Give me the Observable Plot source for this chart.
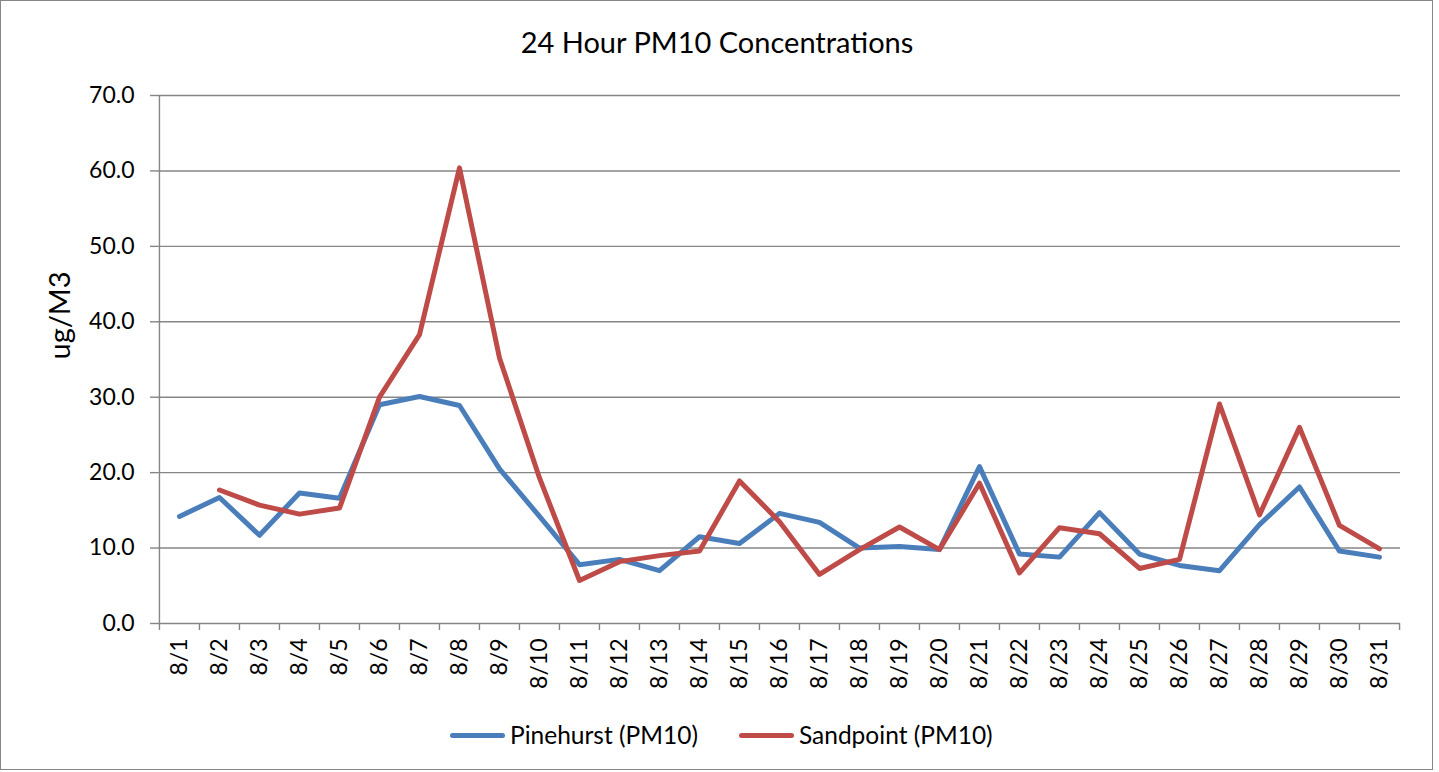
<!DOCTYPE html>
<html>
<head>
<meta charset="utf-8">
<script src="https://cdn.jsdelivr.net/npm/d3@7"></script>
<script src="https://cdn.jsdelivr.net/npm/@observablehq/plot@0.6"></script>
<style>
  html, body { margin: 0; padding: 0; background: #fff; }
  body { width: 1439px; height: 772px; position: relative; overflow: hidden; font-family: Lato, "Liberation Sans", sans-serif; }
  #border { position: absolute; left: 0; top: 0; width: 1433px; height: 770px; border: 1.5px solid #868686; box-sizing: border-box; }
  #chart { position: absolute; left: 0; top: 0; }
  #title { position: absolute; left: 0; width: 1434px; top: 24px; text-align: center; font-size: 29px; color: #000; line-height: 36px; }
  #legend { position: absolute; left: 450px; top: 718px; display: flex; align-items: center; font-size: 24.5px; color: #000; line-height: 34px; }
  .item { display: flex; align-items: center; }
  .sw { width: 55px; height: 5px; border-radius: 3px; margin-right: 5px; }
</style>
</head>
<body>
<div id="border"></div>
<div id="chart"></div>
<div id="title">24 Hour PM10 Concentrations</div>
<div id="legend"></div>
<script>
const dates = ["8/1","8/2","8/3","8/4","8/5","8/6","8/7","8/8","8/9","8/10","8/11","8/12","8/13","8/14","8/15","8/16","8/17","8/18","8/19","8/20","8/21","8/22","8/23","8/24","8/25","8/26","8/27","8/28","8/29","8/30","8/31"];
const pinehurst = [14.2,16.7,11.7,17.3,16.6,29.0,30.1,28.9,20.5,14.2,7.8,8.5,7.0,11.5,10.6,14.6,13.4,10.0,10.2,9.8,20.8,9.2,8.8,14.7,9.2,7.7,7.0,13.1,18.1,9.6,8.8];
const sandpoint = [null,17.7,15.7,14.5,15.3,30.0,38.3,60.4,35.2,19.3,5.7,8.2,9.0,9.6,18.9,13.5,6.5,9.8,12.8,9.8,18.6,6.7,12.7,11.9,7.3,8.5,29.1,14.4,26.0,13.0,9.9];
const seriesNames = ["Pinehurst (PM10)", "Sandpoint (PM10)"];
const seriesColors = ["#4A7EBB", "#BE4B48"];
const yTicks = [0,10,20,30,40,50,60,70];

const W = 1439, H = 772, mL = 157, mR = 39, mT = 95, mB = 149;
const step = (W - mL - mR) / dates.length;
const grid = "#868686";

const rows = (vals) => dates.map((d, i) => ({date: d, value: vals[i]}));

const chart = Plot.plot({
  width: W, height: H,
  marginLeft: mL, marginRight: mR, marginTop: mT, marginBottom: mB,
  style: {fontFamily: "Lato, 'Liberation Sans', sans-serif", color: "#000", background: "transparent"},
  x: {type: "point", domain: dates, padding: 0.5, label: null},
  y: {domain: [0, 70], label: null},
  marks: [
    Plot.ruleY(yTicks, {y: d => d, stroke: grid, strokeWidth: 1.4}),
    Plot.ruleX([dates[0]], {x: d => d, dx: -step / 2, y1: 0, y2: 70, stroke: grid, strokeWidth: 1.4}),
    Plot.ruleX(dates, {x: d => d, dx: -step / 2, y1: 0, y2: 0, insetTop: 0, insetBottom: -7, stroke: grid, strokeWidth: 1.4}),
    Plot.ruleX([dates[dates.length - 1]], {x: d => d, dx: step / 2, y1: 0, y2: 0, insetTop: 0, insetBottom: -7, stroke: grid, strokeWidth: 1.4}),
    Plot.axisY({ticks: yTicks, tickFormat: d3.format(".1f"), tickSize: 7, tickPadding: 16, stroke: grid, strokeWidth: 1.4, fontSize: 23, label: null}),
    Plot.axisX({tickSize: 0, tickPadding: 15, tickRotate: -90, fontSize: 23, label: null}),
    Plot.text(["ug/M3"], {frameAnchor: "left", dx: -97, rotate: -90, text: d => d, fontSize: 29, fill: "#000"}),
    Plot.line(rows(pinehurst), {x: "date", y: "value", stroke: seriesColors[0], strokeWidth: 5, strokeLinejoin: "round", strokeLinecap: "round"}),
    Plot.line(rows(sandpoint), {x: "date", y: "value", stroke: seriesColors[1], strokeWidth: 5, strokeLinejoin: "round", strokeLinecap: "round"})
  ]
});
document.getElementById("chart").appendChild(chart);

const legend = document.getElementById("legend");
seriesNames.forEach((name, i) => {
  const item = document.createElement("div");
  item.className = "item";
  if (i > 0) item.style.marginLeft = "41px";
  const sw = document.createElement("div");
  sw.className = "sw";
  sw.style.background = seriesColors[i];
  const t = document.createElement("span");
  t.textContent = name;
  item.appendChild(sw);
  item.appendChild(t);
  legend.appendChild(item);
});
</script>
</body>
</html>
